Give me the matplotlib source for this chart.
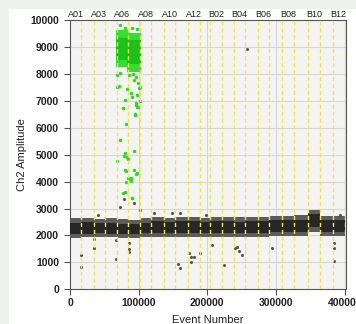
import numpy as np
import matplotlib
matplotlib.use("Agg")
import matplotlib.pyplot as plt
from matplotlib.patches import Rectangle

# wells in run order (A04 not run) and droplet events per well
wells = ["A01", "A02", "A03", "A05", "A06", "A07", "A08", "A09", "A10", "A11", "A12",
         "B01", "B02", "B03", "B04", "B05", "B06", "B07", "B08", "B09", "B10", "B11", "B12"]
events_per_well = [16450, 18050, 16450, 17030, 16880, 17470, 15570, 19360, 16010, 18050, 18350,
                   14130, 17470, 17890, 16010, 18050, 16880, 18050, 18350, 19500, 18330, 18060, 17910]

# negative droplet band per well (outer spread and dense core), Ch2 amplitude
band_lo = [1920, 1930, 1940, 1930, 1900, 1920, 1940, 1950, 1940, 1950, 1950, 1960,
           1960, 1960, 1950, 1960, 1960, 1970, 1980, 1990, 2130, 1980, 1970]
band_hi = [2640, 2660, 2620, 2640, 2600, 2570, 2640, 2680, 2660, 2680, 2690, 2660,
           2680, 2690, 2670, 2680, 2700, 2720, 2740, 2750, 2950, 2740, 2720]
core_lo = [2060, 2070, 2080, 2070, 2040, 2050, 2080, 2090, 2080, 2090, 2090, 2100,
           2100, 2100, 2090, 2100, 2100, 2110, 2120, 2130, 2300, 2120, 2110]
core_hi = [2480, 2500, 2470, 2480, 2440, 2420, 2480, 2520, 2500, 2520, 2530, 2500,
           2520, 2530, 2510, 2520, 2540, 2560, 2580, 2590, 2800, 2580, 2560]

# positive droplet clusters (well index, low, high)
pos_well = [4, 5]
pos_lo = [8250, 8080]
pos_hi = [9630, 9510]
pos_core_lo = [8500, 8350]
pos_core_hi = [9350, 9250]

# scattered positive droplets (event, amplitude)
green_evt = [73200, 79500, 90300, 97600, 73200, 68300, 85400, 91800, 96200, 93700, 99100,
             70700, 68300, 82900, 88800, 90300, 97600, 100000, 101500, 79500, 95600, 101500,
             76600, 97600, 94100, 96600, 100500, 77100, 95100, 81000, 72200, 68300, 80100,
             78100, 83000, 84500, 92700, 80500, 82000, 93200, 98100, 96600, 84500, 87800,
             89300, 81500, 89300, 80500, 77100, 89700, 90200]
green_amp = [9815, 9690, 9690, 9655, 8043, 7957, 7957, 7995, 7872, 7772, 7672,
             7549, 7500, 7427, 7300, 7152, 7215, 7464, 7523, 7029, 6907, 6992,
             6721, 6780, 6498, 6855, 6780, 6732, 6472, 6127, 5544, 4764, 5050,
             4961, 4902, 4827, 5135, 4441, 4404, 4419, 4330, 4281, 4144, 4085,
             4022, 3973, 4122, 3624, 3587, 3379, 3380]

# scattered negative / rain droplets (event, amplitude)
gray_evt = [78000, 72200, 93700, 101500, 40500, 121900, 148800, 159500, 198600, 393700, 258500,
            16100, 16100, 35500, 67300, 85300, 85300, 85300, 157600, 159500, 173200, 176700,
            180600, 176700, 189400, 207400, 223600, 240500, 243900, 246400, 249800, 293700,
            384500, 384500, 384500, 35500, 67300]
gray_amp = [3353, 3045, 3193, 2945, 2760, 2822, 2845, 2845, 2760, 2760, 8923,
            1274, 817, 1523, 1114, 1708, 1485, 1396, 928, 780, 1337, 1188,
            1188, 1003, 1337, 1645, 902, 1545, 1582, 1433, 1274, 1545,
            1708, 1523, 1051, 1857, 1831]

LABEL_FONT = "Liberation Sans"

edges = np.concatenate([[0], np.cumsum(events_per_well)])
centers = (edges[:-1] + edges[1:]) / 2

fig = plt.figure(figsize=(3.56, 3.24), dpi=100)
fig.patch.set_facecolor("white")
fig.patches.append(Rectangle((0, 0), 9 / 356, 1, transform=fig.transFigure,
                             facecolor="#eef2ee", edgecolor="none", zorder=-5))
fig.patches.append(Rectangle((0, 1 - 9 / 324), 1, 9 / 324, transform=fig.transFigure,
                             facecolor="#eef2ee", edgecolor="none", zorder=-5))

ax = fig.add_axes([70 / 356, 1 - 289.3 / 324, 276 / 356, 269.3 / 324])
ax.set_facecolor("#f4f4f4")
ax.set_xlim(0, 402000)
ax.set_ylim(0, 10000)

# grid
ax.set_xticks([0, 100000, 200000, 300000, 400000])
ax.set_yticks(np.arange(0, 10001, 1000))
ax.grid(True, color="#d6d6d6", linewidth=0.8, zorder=0)
ax.set_axisbelow(True)

# negative band
for i in range(len(wells)):
    x0, x1 = edges[i], edges[i + 1]
    ax.fill_between([x0, x1], band_lo[i], band_hi[i], color="#5c5c5c",
                    linewidth=0, zorder=2)
    ax.fill_between([x0, x1], core_lo[i], core_hi[i], color="#262626",
                    linewidth=0, zorder=3)

# positive clusters
for k, w in enumerate(pos_well):
    x0, x1 = edges[w] - 1500, edges[w + 1] + 1500
    ax.fill_between([x0, x1], pos_lo[k], pos_hi[k], color="#33dd33",
                    linewidth=0, zorder=2)
    ax.fill_between([x0, x1], pos_core_lo[k], pos_core_hi[k], color="#1cc21c",
                    linewidth=0, zorder=3)

ax.scatter(gray_evt, gray_amp, s=5, color="#555555", linewidths=0, zorder=4)
ax.scatter(green_evt, green_amp, s=6, color="#22dd22", linewidths=0, zorder=4)

# well boundaries
for e in edges[1:]:
    ax.axvline(e, color="#f2e845", linewidth=1.0, linestyle=(0, (3, 2)), zorder=5)

for s in ax.spines.values():
    s.set_color("#555555")
    s.set_linewidth(0.8)
ax.tick_params(axis="both", which="major", direction="out", length=4,
               color="#555555", labelsize=7.5, pad=2)
for lab in ax.get_xticklabels() + ax.get_yticklabels():
    lab.set_fontfamily(LABEL_FONT)
    lab.set_fontweight("bold")
    lab.set_color("#222222")
ax.tick_params(axis="y", pad=4)

ax.set_xlabel("Event Number", fontsize=8, family=LABEL_FONT, labelpad=5, color="#222222")
ax.set_ylabel("Ch2 Amplitude", fontsize=8, family=LABEL_FONT, labelpad=2, color="#222222")

# well names along the top
top = ax.secondary_xaxis("top")
top.set_xticks(centers[::2])
top.set_xticklabels(wells[::2])
top.tick_params(length=0, pad=1, labelsize=6.5)
for lab in top.get_xticklabels():
    lab.set_fontfamily(LABEL_FONT)
    lab.set_color("#222222")
top.spines["top"].set_visible(False)

fig.savefig("out.png", dpi=100, facecolor=fig.get_facecolor())
